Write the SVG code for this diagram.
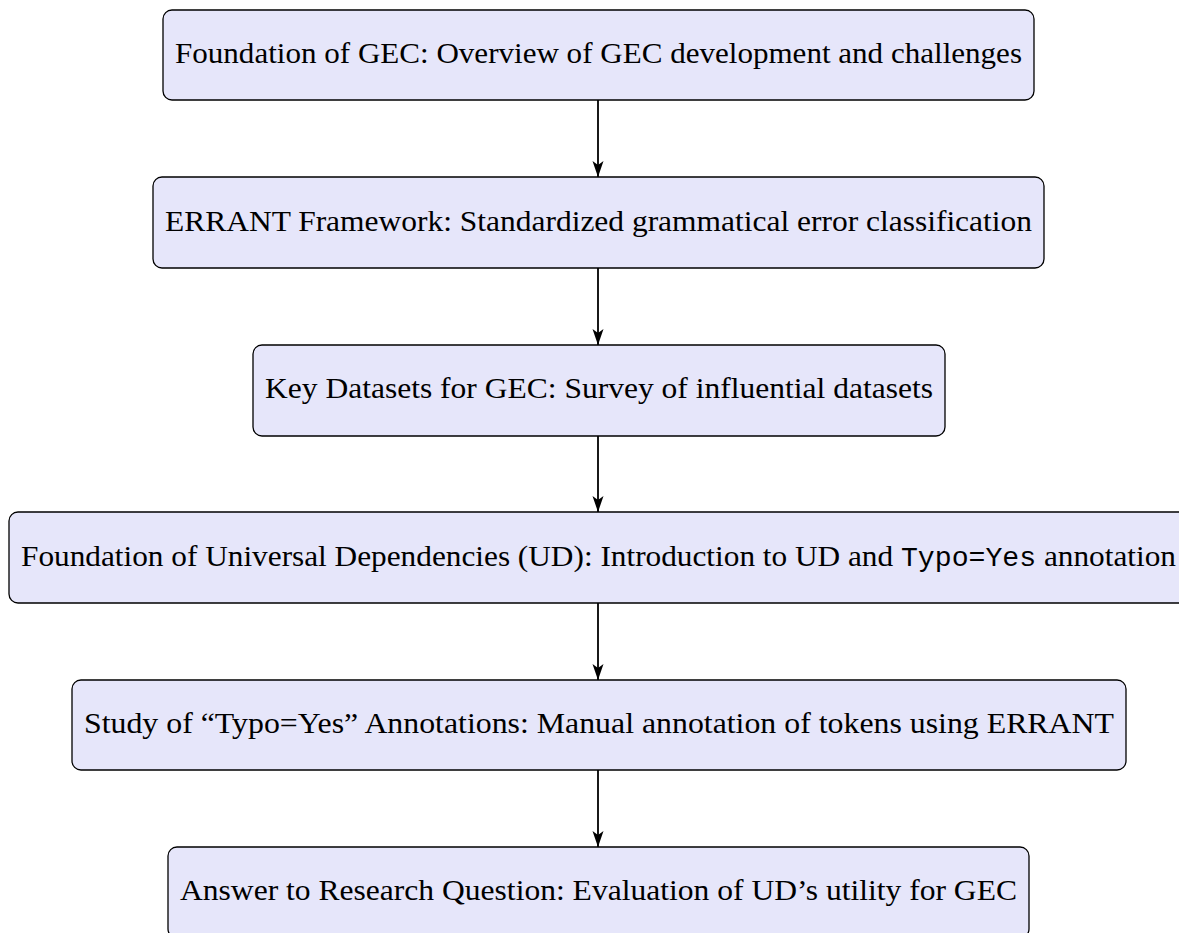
<svg xmlns="http://www.w3.org/2000/svg" width="1179" height="933" viewBox="0 0 1179 933">
<style>
.box{fill:#E6E6FA;stroke:#000;stroke-width:1.3}
.t{font-family:"Liberation Serif","Times New Roman",serif;font-size:30px;fill:#000;text-anchor:start}
.m{font-family:"Liberation Mono","Courier New",monospace;font-size:27px}
.c{stroke:#000;stroke-width:1.8;fill:none}
</style>
<defs>
<marker id="ah" viewBox="0 0 16 12" refX="16" refY="6" markerWidth="16" markerHeight="12" markerUnits="userSpaceOnUse" orient="auto">
<path d="M0,0.5 L16,6 L0,11.5 L4,6 Z" fill="#000"/>
</marker>
</defs>
<rect width="1179" height="933" fill="#fff"/>
<g id="connectors">
<line class="c" x1="598" y1="100" x2="598" y2="177" marker-end="url(#ah)"/>
<line class="c" x1="598" y1="268" x2="598" y2="345" marker-end="url(#ah)"/>
<line class="c" x1="598" y1="436" x2="598" y2="512" marker-end="url(#ah)"/>
<line class="c" x1="598" y1="603" x2="598" y2="680" marker-end="url(#ah)"/>
<line class="c" x1="598" y1="770" x2="598" y2="847" marker-end="url(#ah)"/>
</g>
<g id="n1">
<rect class="box" x="163" y="10" width="871" height="90" rx="9"/>
<text class="t" x="175" y="63" textLength="847" lengthAdjust="spacingAndGlyphs">Foundation of GEC: Overview of GEC development and challenges</text>
</g>
<g id="n2">
<rect class="box" x="153" y="177" width="891" height="91" rx="9"/>
<text class="t" x="165" y="231" textLength="867" lengthAdjust="spacingAndGlyphs">ERRANT Framework: Standardized grammatical error classification</text>
</g>
<g id="n3">
<rect class="box" x="253" y="345" width="692" height="91" rx="9"/>
<text class="t" x="265" y="398" textLength="668" lengthAdjust="spacingAndGlyphs">Key Datasets for GEC: Survey of influential datasets</text>
</g>
<g id="n4">
<rect class="box" x="9" y="512" width="1179" height="91" rx="9"/>
<text class="t" x="21" y="566" textLength="1155" lengthAdjust="spacingAndGlyphs">Foundation of Universal Dependencies (UD): Introduction to UD and <tspan class="m">Typo=Yes</tspan> annotation</text>
</g>
<g id="n5">
<rect class="box" x="72" y="680" width="1054" height="90" rx="9"/>
<text class="t" x="84" y="733" textLength="1030" lengthAdjust="spacingAndGlyphs">Study of “Typo=Yes” Annotations: Manual annotation of tokens using ERRANT</text>
</g>
<g id="n6">
<rect class="box" x="168" y="847" width="861" height="91" rx="9"/>
<text class="t" x="180" y="900" textLength="837" lengthAdjust="spacingAndGlyphs">Answer to Research Question: Evaluation of UD’s utility for GEC</text>
</g>
</svg>
